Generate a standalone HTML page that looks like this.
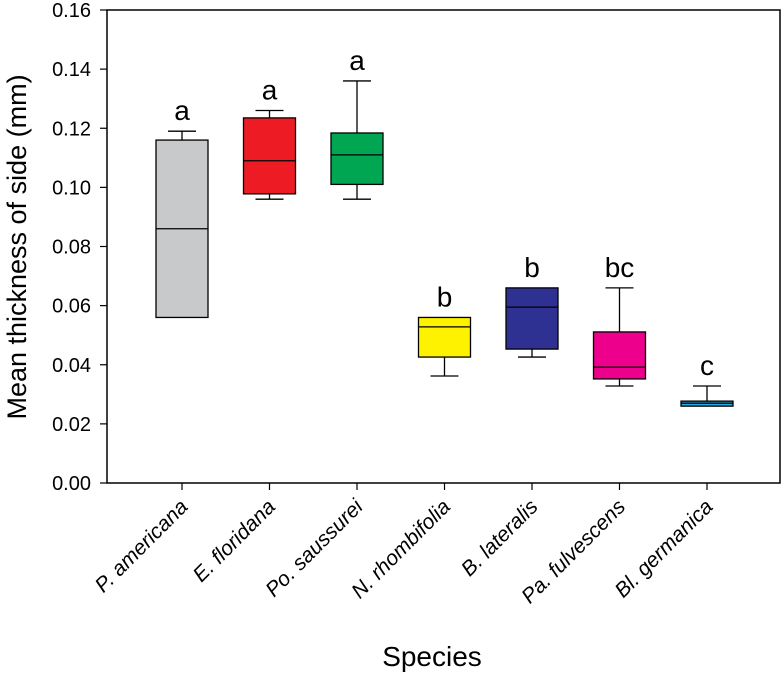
<!DOCTYPE html>
<html><head><meta charset="utf-8"><style>
body{margin:0;background:#fff;}
svg{display:block;font-family:"Liberation Sans",Arial,sans-serif;}
</style></head><body>
<svg id="chart" width="784" height="674" viewBox="0 0 784 674">
<rect x="107" y="10" width="673" height="473" fill="none" stroke="#000" stroke-width="1.5"/>
<g id="yaxis"></g>
<g id="xaxis"></g>
<g id="boxes"></g>
<text x="26" y="247" font-size="27" text-anchor="middle" transform="rotate(-90 26 247)">Mean thickness of side (mm)</text>
<text x="432" y="666" font-size="28" text-anchor="middle">Species</text>
</svg>
<script>
const categories=["P. americana","E. floridana","Po. saussurei","N. rhombifolia","B. lateralis","Pa. fulvescens","Bl. germanica"];
const whiskerLow=[0.056,0.096,0.096,0.0362,0.0426,0.0328,0.026];
const q1=[0.056,0.0978,0.101,0.0426,0.0453,0.0352,0.026];
const medians=[0.086,0.109,0.111,0.0528,0.0595,0.0392,0.027];
const q3=[0.116,0.1235,0.1184,0.056,0.066,0.0511,0.0277];
const whiskerHigh=[0.119,0.126,0.136,0.056,0.066,0.066,0.0328];
const letters=["a","a","a","b","b","bc","c"];
const colors=["#c8c9cb","#ed1c24","#00a651","#fff200","#2e3192","#ec008c","#29abe2"];
const yTicks=[0,0.02,0.04,0.06,0.08,0.10,0.12,0.14,0.16];
const NS="http://www.w3.org/2000/svg";
const y=v=>483-v*(473/0.16);
const x=i=>182+87.5*i;
function mk(t,a,p){const e=document.createElementNS(NS,t);for(const k in a)e.setAttribute(k,a[k]);p.appendChild(e);return e;}
const ya=document.getElementById('yaxis');
yTicks.forEach(v=>{
  const l=mk('line',{x1:100,x2:107,y1:y(v),y2:y(v),stroke:'#000','stroke-width':1.2},ya);
  
  
  const t=mk('text',{x:91,y:y(v)+7,'font-size':20,'text-anchor':'end'},ya);
  t.textContent=v.toFixed(2);
  
  
});
const xa=document.getElementById('xaxis');
const bx=document.getElementById('boxes');
const hw=26,cw=14;
categories.forEach((c,i)=>{
  const cx=x(i);
  const tk=mk('line',{x1:cx,x2:cx,y1:483,y2:490,stroke:'#000','stroke-width':1.2},xa);
  
  
  const t=mk('text',{x:cx+7,y:508,'font-size':21,'font-style':'italic','text-anchor':'end',transform:`rotate(-45 ${cx+7} 508)`},xa);
  t.textContent=c;
  
  
  const g=mk('g',{},bx);
  
  
  const s={stroke:'#000','stroke-width':1.3};
  if(whiskerHigh[i]>q3[i]){mk('line',{x1:cx,x2:cx,y1:y(whiskerHigh[i]),y2:y(q3[i]),...s},g);mk('line',{x1:cx-cw,x2:cx+cw,y1:y(whiskerHigh[i]),y2:y(whiskerHigh[i]),...s},g);}
  if(whiskerLow[i]<q1[i]){mk('line',{x1:cx,x2:cx,y1:y(q1[i]),y2:y(whiskerLow[i]),...s},g);mk('line',{x1:cx-cw,x2:cx+cw,y1:y(whiskerLow[i]),y2:y(whiskerLow[i]),...s},g);}
  mk('rect',{x:cx-hw,y:y(q3[i]),width:2*hw,height:Math.max(1,y(q1[i])-y(q3[i])),fill:colors[i],...s},g);
  mk('line',{x1:cx-hw,x2:cx+hw,y1:y(medians[i]),y2:y(medians[i]),...s},g);
  const lt=mk('text',{x:cx,y:y(whiskerHigh[i])-11,'font-size':28,'text-anchor':'middle'},g);
  lt.textContent=letters[i];
  
  
});
</script>
</body></html>
